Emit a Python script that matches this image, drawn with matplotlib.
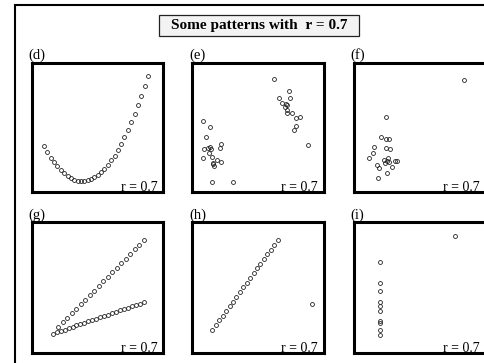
import matplotlib
matplotlib.use("Agg")
import matplotlib.pyplot as plt
from matplotlib.patches import Rectangle

plt.rcParams['font.family'] = ['Liberation Serif', 'DejaVu Serif']

# panel (d): curved pattern
d_x = [10.4, 12.9, 15.4, 17.8, 20.3, 22.8, 25.3, 27.8, 30.3, 32.8, 35.2, 37.7,
       40.2, 42.7, 45.2, 47.7, 50.2, 52.6, 55.1, 57.6, 60.1, 62.6, 65.1, 67.6,
       70.0, 72.5, 75.0, 77.5, 80.0, 82.5, 85.0, 87.4]
d_y = [35.8, 31.4, 27.4, 23.9, 20.7, 17.9, 15.5, 13.6, 12.0, 10.8, 10.1, 9.8,
       9.9, 10.4, 11.3, 12.6, 14.3, 16.3, 18.9, 21.8, 25.2, 28.9, 33.1, 37.7,
       42.5, 47.9, 53.8, 60.0, 66.6, 73.7, 81.2, 88.7]

# panel (e): two clusters
e_x = [62.2, 73.3, 65.9, 74.1, 68.1, 71.1, 71.9, 70.4, 71.9, 71.9, 75.6, 78.5,
       81.5, 78.5, 77.0, 87.4,
       9.6, 14.8, 11.9, 23.0, 22.2, 10.4, 13.3, 14.8, 15.6, 14.1, 9.6, 16.3,
       20.0, 17.0, 23.0, 17.0, 17.8, 16.3, 31.9]
e_y = [86.5, 77.4, 72.2, 72.2, 68.4, 67.7, 66.9, 65.4, 63.2, 60.9, 60.9, 57.1,
       57.9, 51.1, 48.1, 36.8,
       54.9, 50.4, 42.9, 37.6, 34.6, 33.8, 34.6, 35.3, 33.8, 30.8, 27.1, 27.8,
       25.6, 23.3, 24.1, 22.6, 21.1, 9.0, 9.0]

# panel (f): one cluster plus an outlier
f_x = [83.0, 25.2, 21.5, 25.2, 27.4, 16.3, 25.2, 28.1, 15.6, 12.6, 26.7, 23.7,
       25.9, 27.4, 31.9, 33.3, 18.5, 20.0, 24.4, 29.6, 25.9, 19.3]
f_y = [85.7, 57.9, 42.9, 41.4, 41.4, 35.3, 34.6, 33.8, 30.8, 27.1, 27.1, 25.6,
       24.8, 24.1, 24.8, 24.8, 21.8, 19.5, 23.3, 20.3, 15.8, 12.0]

# panel (g): two lines
g_x = [16.8, 19.7, 22.7, 25.6, 28.6, 31.5, 34.4, 37.4, 40.3, 43.3, 46.2, 49.1,
       52.1, 55.0, 58.0, 60.9, 63.8, 66.8, 69.7, 72.7, 75.6, 78.5, 81.5, 84.4,
       20.7, 24.1, 27.4, 30.8, 34.1, 37.5, 40.8, 44.2, 47.5, 50.9, 54.2, 57.6,
       60.9, 64.3, 67.6, 71.0, 74.3, 77.7, 81.0, 84.4]
g_y = [15.9, 16.9, 17.9, 19.0, 20.0, 21.0, 22.0, 23.1, 24.1, 25.1, 26.1, 27.1,
       28.2, 29.2, 30.2, 31.2, 32.3, 33.3, 34.3, 35.3, 36.3, 37.4, 38.4, 39.4,
       20.9, 24.3, 27.7, 31.1, 34.5, 37.9, 41.3, 44.7, 48.1, 51.5, 54.9, 58.4,
       61.8, 65.2, 68.6, 72.0, 75.4, 78.8, 82.2, 85.6]

# panel (h): a line plus an outlier
h_x = [16.5, 19.1, 21.6, 24.2, 26.7, 29.3, 31.8, 34.4, 36.9, 39.5, 42.0, 44.6,
       47.1, 49.7, 52.2, 54.8, 57.3, 59.9, 62.4, 65.0, 90.1]
h_y = [18.7, 22.2, 25.8, 29.3, 32.8, 36.4, 39.9, 43.4, 47.0, 50.5, 54.0, 57.6,
       61.1, 64.6, 68.1, 71.7, 75.2, 78.7, 82.3, 85.8, 37.8]

# panel (i): one column plus an outlier
i_x = [20.7, 20.7, 20.7, 20.7, 20.7, 20.7, 20.7, 20.7, 20.7, 20.7, 76.3]
i_y = [69.4, 53.7, 47.8, 39.6, 36.2, 32.8, 25.6, 24.1, 18.7, 14.9, 89.0]

labels = ['(d)', '(e)', '(f)', '(g)', '(h)', '(i)']
xs = [d_x, e_x, f_x, g_x, h_x, i_x]
ys = [d_y, e_y, f_y, g_y, h_y, i_y]
r_text = 'r = 0.7'
title = 'Some patterns with  r = 0.7'

fig = plt.figure(figsize=(4.84, 3.63), dpi=100)

# outer frame (right and bottom edges are off the picture)
fig.patches.append(Rectangle((0.032, -0.2), 1.2, 1.1876, transform=fig.transFigure,
                             fill=False, lw=1.5, ec='black'))

# title box
fig.patches.append(Rectangle((159 / 484, 1 - 36 / 363), 200 / 484, 21 / 363,
                             transform=fig.transFigure, fc='#f3f3f3', ec='#222222', lw=0.9))
fig.text(259 / 484, 1 - 26 / 363, title, ha='center', va='center',
         fontsize=11, fontweight='bold')

lefts = [0.0651, 0.3957, 0.7304]
bottoms = [0.4697, 0.0262]
heights = [0.3581, 0.3609]
w = 0.2727

for k in range(6):
    row, col = divmod(k, 3)
    ax = fig.add_axes([lefts[col], bottoms[row], w, heights[row]])
    ax.plot(xs[k], ys[k], 'o', ms=2.8, mfc='none', mec='#222222', mew=0.6)
    ax.set_xlim(1.1, 98.9)
    ax.set_ylim(1.1, 98.9)
    ax.set_xticks([])
    ax.set_yticks([])
    for s in ax.spines.values():
        s.set_linewidth(2.2)
    ax.text(0.955, 0.012, r_text, transform=ax.transAxes, ha='right',
            va='baseline', fontsize=10)
    ax.text(-0.02, 1.005, labels[k], transform=ax.transAxes, ha='left',
            va='bottom', fontsize=10.5)

fig.savefig('out.png', dpi=100)
